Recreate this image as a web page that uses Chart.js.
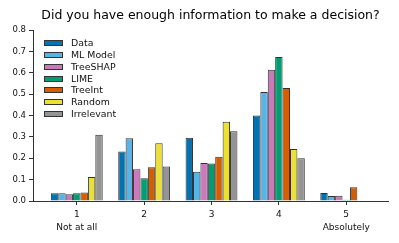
<!DOCTYPE html>
<html><head><meta charset="utf-8">
<script src="https://cdn.jsdelivr.net/npm/chart.js@4/dist/chart.umd.min.js"></script>
<style>html,body{margin:0;padding:0;background:#fff}#wrap{width:399px;height:243px}</style>
</head><body><div id="wrap"><canvas id="c" width="399" height="243"></canvas></div>
<script>
const titleText = 'Did you have enough information to make a decision?';
const categories = [1, 2, 3, 4, 5];
const categorySubLabels = ['Not at all', '', '', '', 'Absolutely'];
const yTicks = [0, 0.1, 0.2, 0.3, 0.4, 0.5, 0.6, 0.7, 0.8];
const seriesNames = ['Data', 'ML Model', 'TreeSHAP', 'LIME', 'TreeInt', 'Random', 'Irrelevant'];
const dataValues       = [0.036, 0.231, 0.296, 0.400, 0.037];
const mlModelValues    = [0.036, 0.293, 0.137, 0.510, 0.023];
const treeShapValues   = [0.031, 0.148, 0.178, 0.614, 0.025];
const limeValues       = [0.036, 0.106, 0.176, 0.674, 0.006];
const treeIntValues    = [0.040, 0.158, 0.207, 0.529, 0.064];
const randomValues     = [0.112, 0.270, 0.371, 0.243, 0.000];
const irrelevantValues = [0.310, 0.161, 0.326, 0.200, 0.000];
const seriesValues = [dataValues, mlModelValues, treeShapValues, limeValues, treeIntValues, randomValues, irrelevantValues];
const seriesColors = ['#0173B2', '#56B4E9', '#CC78BC', '#029E73', '#D55E00', '#ECE133', '#949494'];

const FONT = "'DejaVu Sans', sans-serif";
const EDGE = '#333333';

const legendPlugin = {
  id: 'insideLegend',
  afterDraw(chart) {
    const ctx = chart.ctx;
    const area = chart.chartArea;
    ctx.save();
    ctx.font = '9.4px ' + FONT;
    ctx.textBaseline = 'middle';
    chart.data.datasets.forEach((ds, i) => {
      const y = Math.round(area.top + 10 + i * 11.85);
      const x = Math.round(area.left + 11);
      ctx.fillStyle = ds.backgroundColor;
      ctx.fillRect(x, y, 19, 6);
      ctx.strokeStyle = EDGE;
      ctx.lineWidth = 1;
      ctx.strokeRect(x + 0.5, y + 0.5, 18, 5);
      ctx.fillStyle = '#111';
      ctx.fillText(ds.label, x + 27, y + 3.5);
    });
    ctx.restore();
  }
};

new Chart(document.getElementById('c'), {
  type: 'bar',
  data: {
    labels: categories,
    datasets: seriesNames.map((name, i) => ({
      label: name,
      data: seriesValues[i],
      backgroundColor: seriesColors[i],
      borderColor: EDGE,
      borderWidth: 1,
      inflateAmount: 0,
      categoryPercentage: 0.77,
      barPercentage: 1.0
    }))
  },
  options: {
    responsive: false,
    animation: false,
    layout: { padding: { left: 0, right: 11, top: 0, bottom: 0 } },
    plugins: {
      legend: { display: false },
      tooltip: { enabled: false },
      title: {
        display: true,
        text: titleText,
        fullSize: false,
        color: '#000',
        font: { family: FONT, size: 12.5, weight: 'normal', lineHeight: 1.2 },
        padding: { top: 8, bottom: 7 }
      }
    },
    scales: {
      x: {
        type: 'linear',
        min: 0.35,
        max: 5.62,
        offset: false,
        afterBuildTicks(scale) { scale.ticks = categories.map(v => ({ value: v })); },
        afterFit(scale) { scale.height = 42; },
        grid: { offset: false, drawOnChartArea: false, drawTicks: true, tickLength: 4, color: EDGE, tickWidth: 1 },
        border: { display: true, color: EDGE, width: 1 },
        ticks: {
          autoSkip: false,
          maxRotation: 0,
          padding: 4,
          color: '#111',
          font: { family: FONT, size: 9, lineHeight: 1.35 },
          callback(value) {
            const i = categories.indexOf(value);
            if (i < 0) return '';
            return categorySubLabels[i] ? [String(value), categorySubLabels[i]] : String(value);
          }
        }
      },
      y: {
        min: 0,
        max: 0.8,
        afterBuildTicks(scale) { scale.ticks = yTicks.map(v => ({ value: v })); },
        afterFit(scale) { scale.width = 33; },
        grid: { drawOnChartArea: false, drawTicks: true, tickLength: 4, color: EDGE, tickWidth: 1 },
        border: { display: true, color: EDGE, width: 1 },
        ticks: {
          padding: 3,
          color: '#111',
          font: { family: FONT, size: 8.5 },
          callback(value) { return value.toFixed(1); }
        }
      }
    }
  },
  plugins: [legendPlugin]
});
</script>
</body></html>
